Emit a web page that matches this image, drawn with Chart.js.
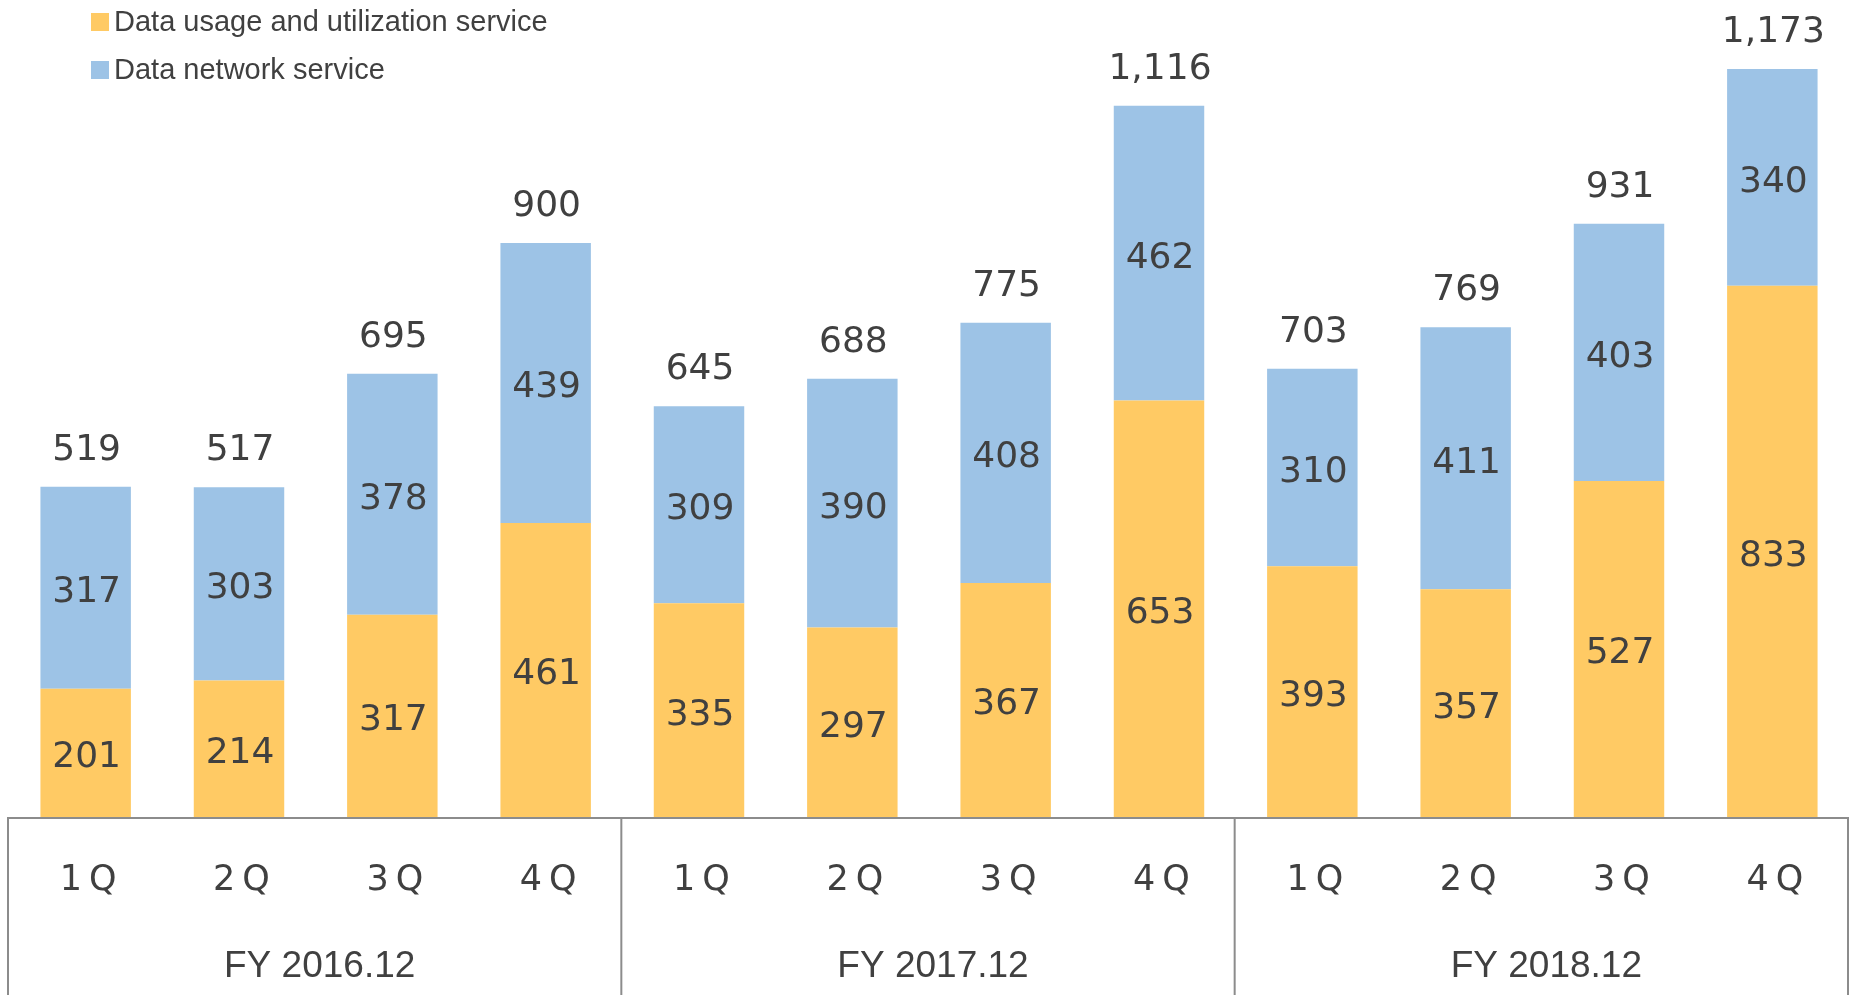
<!DOCTYPE html>
<html>
<head>
<meta charset="utf-8">
<script src="https://cdn.jsdelivr.net/npm/chart.js@4.4.0/dist/chart.umd.min.js"></script>
<style>
  html, body { margin: 0; padding: 0; background: #fff; }
  #wrap { width: 1849px; height: 995px; position: relative; }
</style>
</head>
<body>
<div id="wrap"><canvas id="myChart"></canvas></div>
<script>
// Chart data
const quarters = ['1Q', '2Q', '3Q', '4Q', '1Q', '2Q', '3Q', '4Q', '1Q', '2Q', '3Q', '4Q'];
const fiscalYears = ['FY 2016.12', 'FY 2017.12', 'FY 2018.12'];
const usageService = [201, 214, 317, 461, 335, 297, 367, 653, 393, 357, 527, 833];
const networkService = [317, 303, 378, 439, 309, 390, 408, 462, 310, 411, 403, 340];
const totals = [519, 517, 695, 900, 645, 688, 775, 1116, 703, 769, 931, 1173];

const orange = '#FFCA64';
const blue = '#9DC3E6';
const textColor = '#404040';
const lineColor = '#8C8C8C';
const numFont = '36px "DejaVu Sans"';

// Draw legend, value labels and the two-level category axis
const decorations = {
    id: 'decorations',
    afterDatasetsDraw(chart) {
        const ctx = chart.ctx;
        const area = chart.chartArea;
        const xScale = chart.scales.x;
        ctx.save();

        // segment labels
        ctx.font = numFont;
        ctx.fillStyle = textColor;
        ctx.textAlign = 'center';
        ctx.textBaseline = 'middle';
        chart.data.datasets.forEach(function(ds, i) {
            const meta = chart.getDatasetMeta(i);
            meta.data.forEach(function(bar, j) {
                ctx.fillText(String(ds.data[j]), bar.x + 1, (bar.y + bar.base) / 2 + 5);
            });
        });

        // totals on top
        const topMeta = chart.getDatasetMeta(1);
        ctx.textBaseline = 'alphabetic';
        topMeta.data.forEach(function(bar, j) {
            ctx.fillText(totals[j].toLocaleString('en-US'), bar.x + 1, bar.y - 27);
        });

        // axis line and group dividers
        ctx.strokeStyle = lineColor;
        ctx.lineWidth = 2;
        ctx.beginPath();
        ctx.moveTo(area.left - 1, area.bottom + 1);
        ctx.lineTo(area.right, area.bottom + 1);
        const step = (area.right - area.left) / quarters.length;
        for (let g = 0; g <= 3; g++) {
            const x = Math.min(area.left - 1 + g * 4 * step, chart.width - 1);
            ctx.moveTo(x, area.bottom);
            ctx.lineTo(x, chart.height);
        }
        ctx.stroke();

        // quarter labels
        ctx.font = '35px "DejaVu Sans"';
        ctx.textBaseline = 'middle';
        ctx.letterSpacing = '7px';
        quarters.forEach(function(q, j) {
            ctx.fillText(q, xScale.getPixelForValue(j) + 6, 881);
        });
        ctx.letterSpacing = '0px';

        // fiscal year labels
        ctx.font = '37px "Liberation Sans"';
        fiscalYears.forEach(function(fy, g) {
            const x = (xScale.getPixelForValue(g * 4) + xScale.getPixelForValue(g * 4 + 3)) / 2;
            ctx.fillText(fy, x + 4, 967);
        });

        // legend
        ctx.font = '29px "Liberation Sans"';
        ctx.textAlign = 'left';
        chart.data.datasets.forEach(function(ds, i) {
            const cy = 22 + i * 48;
            ctx.fillStyle = ds.backgroundColor;
            ctx.fillRect(91, cy - 9, 18, 18);
            ctx.fillStyle = textColor;
            ctx.fillText(ds.label, 114, cy + 1);
        });

        ctx.restore();
    }
};

const ctx = document.getElementById('myChart').getContext('2d');
const myChart = new Chart(ctx, {
    type: 'bar',
    data: {
        labels: quarters,
        datasets: [
            {
                label: 'Data usage and utilization service',
                data: usageService,
                backgroundColor: orange,
                barPercentage: 0.59,
                categoryPercentage: 1.0
            },
            {
                label: 'Data network service',
                data: networkService,
                backgroundColor: blue,
                barPercentage: 0.59,
                categoryPercentage: 1.0
            }
        ]
    },
    options: {
        responsive: true,
        maintainAspectRatio: false,
        animation: false,
        layout: {
            padding: { left: 9, right: 0, top: 0, bottom: 178 }
        },
        plugins: {
            legend: { display: false },
            tooltip: { enabled: false }
        },
        scales: {
            x: { stacked: true, display: false },
            y: { stacked: true, display: false, min: 0, max: 1281 }
        }
    },
    plugins: [decorations]
});
</script>
</body>
</html>
